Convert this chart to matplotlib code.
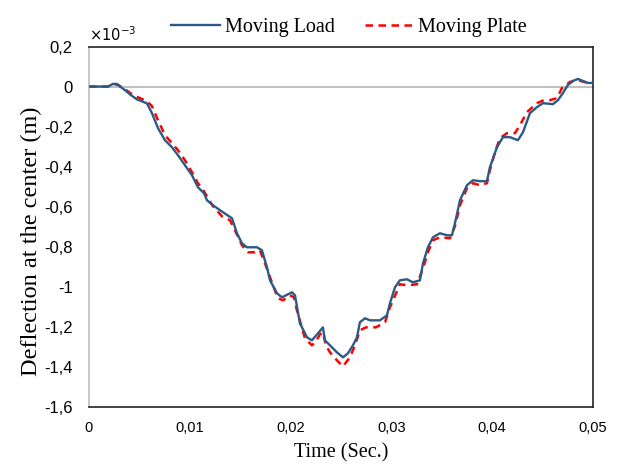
import matplotlib.pyplot as plt
import numpy as np
from matplotlib.ticker import FuncFormatter, MultipleLocator

# Temps (s) et flèche au centre (x 1e-3 m)
t_load = [0.0, 0.00188, 0.00238, 0.00278, 0.00317, 0.00357, 0.00417, 0.00476, 0.00536, 0.00575,
          0.00625, 0.00685, 0.00754, 0.00823, 0.00883, 0.00952, 0.01022, 0.01081, 0.01141, 0.01171,
          0.01230, 0.01329, 0.01419, 0.01468, 0.01518, 0.01567, 0.01667, 0.01716, 0.01766, 0.01796,
          0.01865, 0.01915, 0.02014, 0.02044, 0.02093, 0.02163, 0.02212, 0.02272, 0.02321, 0.02341,
          0.02391, 0.02460, 0.02520, 0.02569, 0.02619, 0.02659, 0.02688, 0.02738, 0.02788, 0.02887,
          0.02956, 0.02986, 0.03036, 0.03085, 0.03155, 0.03214, 0.03284, 0.03314, 0.03363, 0.03413,
          0.03482, 0.03552, 0.03601, 0.03631, 0.03681, 0.03750, 0.03810, 0.03879, 0.03948, 0.03978,
          0.04048, 0.04107, 0.04177, 0.04256, 0.04306, 0.04375, 0.04444, 0.04504, 0.04603, 0.04653,
          0.04702, 0.04752, 0.04802, 0.04851, 0.04901, 0.04950, 0.05]
d_load = [0.0, 0.0, 0.013, 0.013, -0.003, -0.018, -0.043, -0.064, -0.076, -0.084,
          -0.133, -0.208, -0.268, -0.303, -0.343, -0.393, -0.443, -0.503, -0.533, -0.568,
          -0.593, -0.628, -0.658, -0.733, -0.783, -0.803, -0.803, -0.818, -0.903, -0.968,
          -1.033, -1.053, -1.028, -1.043, -1.183, -1.253, -1.268, -1.233, -1.203, -1.268,
          -1.293, -1.328, -1.353, -1.333, -1.293, -1.253, -1.178, -1.158, -1.168, -1.168,
          -1.143, -1.083, -1.003, -0.968, -0.963, -0.978, -0.968, -0.883, -0.803, -0.753,
          -0.733, -0.743, -0.743, -0.683, -0.568, -0.493, -0.468, -0.473, -0.473, -0.403,
          -0.303, -0.253, -0.253, -0.268, -0.228, -0.133, -0.103, -0.083, -0.088, -0.068,
          -0.033, 0.008, 0.028, 0.038, 0.028, 0.018, 0.018]

t_plate = [0.0, 0.00188, 0.00248, 0.00288, 0.00357, 0.00437, 0.00506, 0.00575, 0.00625, 0.00685,
           0.00754, 0.00823, 0.00883, 0.00952, 0.01022, 0.01081, 0.01141, 0.01181, 0.01230, 0.01319,
           0.01399, 0.01458, 0.01518, 0.01577, 0.01647, 0.01696, 0.01746, 0.01796, 0.01875, 0.01925,
           0.01994, 0.02034, 0.02063, 0.02143, 0.02212, 0.02252, 0.02292, 0.02321, 0.02351, 0.02391,
           0.02460, 0.02520, 0.02589, 0.02639, 0.02688, 0.02748, 0.02847, 0.02937, 0.02986, 0.03016,
           0.03085, 0.03165, 0.03254, 0.03314, 0.03363, 0.03413, 0.03482, 0.03581, 0.03631, 0.03681,
           0.03750, 0.03810, 0.03879, 0.03948, 0.03978, 0.04028, 0.04077, 0.04147, 0.04226, 0.04276,
           0.04345, 0.04444, 0.04514, 0.04573, 0.04643, 0.04692, 0.04772, 0.04841, 0.04950, 0.05]
d_plate = [0.0, 0.0, 0.013, 0.008, -0.013, -0.043, -0.058, -0.073, -0.098, -0.168,
           -0.243, -0.283, -0.318, -0.368, -0.428, -0.483, -0.523, -0.558, -0.598, -0.648,
           -0.668, -0.728, -0.793, -0.828, -0.828, -0.818, -0.883, -0.953, -1.058, -1.068,
           -1.043, -1.053, -1.118, -1.258, -1.293, -1.273, -1.238, -1.228, -1.293, -1.328,
           -1.368, -1.398, -1.353, -1.293, -1.218, -1.203, -1.203, -1.178, -1.103, -1.068,
           -0.988, -0.993, -0.988, -0.908, -0.828, -0.768, -0.753, -0.758, -0.698, -0.593,
           -0.508, -0.483, -0.493, -0.483, -0.418, -0.328, -0.258, -0.233, -0.233, -0.193,
           -0.128, -0.083, -0.068, -0.068, -0.058, -0.008, 0.023, 0.033, 0.018, 0.018]

fig = plt.figure(figsize=(6.17, 4.68), dpi=100)
ax = fig.add_axes([0.1442, 0.1308, 0.8168, 0.7698])

ax.axhline(0, color="#c0c0c0", lw=1.4, zorder=1)
ax.plot(t_load, d_load, color="#2b5a84", lw=1.7, label="Moving Load", zorder=3)
ax.plot(t_plate, d_plate, color="#ff0000", lw=1.8, ls=(0, (3, 2.2)), label="Moving Plate", zorder=2)

ax.set_xlim(0, 0.05)
ax.set_ylim(-1.6, 0.2)
ax.xaxis.set_major_locator(MultipleLocator(0.01))
ax.yaxis.set_major_locator(MultipleLocator(0.2))

def virgule(v, pos):
    s = "%g" % round(v, 6)
    return s.replace(".", ",")

ax.xaxis.set_major_formatter(FuncFormatter(virgule))
ax.yaxis.set_major_formatter(FuncFormatter(virgule))
ax.tick_params(axis="x", length=0, labelsize=10.5, pad=10)
ax.tick_params(axis="y", length=0, labelsize=12, pad=11.5)
for lab in ax.get_xticklabels() + ax.get_yticklabels():
    lab.set_family("Liberation Sans")

ax.spines["left"].set_color("#bfbfbf")
ax.spines["left"].set_linewidth(1.2)
for s in ["top", "right", "bottom"]:
    ax.spines[s].set_color("#222222")
    ax.spines[s].set_linewidth(1.2)

ax.text(0.0, 1.032, r"$\times10^{-3}$", transform=ax.transAxes, fontsize=10.5,
        family="DejaVu Sans", ha="left", va="center")

ax.set_xlabel("Time (Sec.)", family="Liberation Serif", fontsize=14.5, labelpad=6)
ax.set_ylabel("Deflection at the center (m)", family="Liberation Serif", fontsize=17.5, labelpad=3)
ax.yaxis.set_label_coords(-0.093, 0.46)

fig.legend(loc="upper center", bbox_to_anchor=(0.566, 1.0), ncol=2, frameon=False,
           prop={"family": "Liberation Serif", "size": 14.5}, handlelength=2.4,
           handletextpad=0.25, columnspacing=1.5)

fig.savefig("out.png", dpi=100)
